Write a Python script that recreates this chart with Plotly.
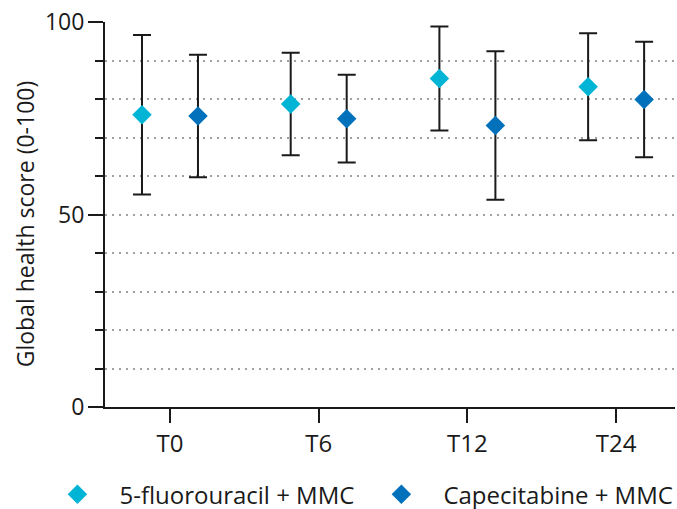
import plotly.graph_objects as go

# Time points and arms
timepoints = ["T0", "T6", "T12", "T24"]

fu_name = "5-fluorouracil + MMC"
fu_mean = [75.9, 78.7, 85.3, 83.2]
fu_sd = [20.7, 13.3, 13.5, 13.9]

cape_name = "Capecitabine + MMC"
cape_mean = [75.6, 74.9, 73.1, 79.9]
cape_sd = [15.9, 11.4, 19.3, 15.0]

y_ticks = [0, 50, 100]
y_title = "Global health score (0-100)"

FONT = "Open Sans"
AXIS_COLOR = "#1a1a1a"
GRID_COLOR = "#a0a0a0"
GRID_DASH = "2px,5px"

fig = go.Figure()

for name, mean, sd, color in [
    (fu_name, fu_mean, fu_sd, "#00B4D6"),
    (cape_name, cape_mean, cape_sd, "#0071BA"),
]:
    fig.add_trace(go.Scatter(
        x=timepoints, y=mean, name=name, mode="markers",
        marker=dict(symbol="diamond", size=15, color=color, line=dict(width=0)),
        error_y=dict(type="data", array=sd, visible=True,
                     color=AXIS_COLOR, thickness=2, width=9),
    ))

# rotated y-axis title, placed as a paper-anchored annotation
fig.add_annotation(
    text=y_title, textangle=-90, showarrow=False,
    xref="paper", yref="paper", x=-0.14, y=0.475,
    xanchor="center", yanchor="middle",
    font=dict(size=23, family=FONT, color="#1a1a1a"),
)

fig.update_layout(
    width=677, height=509,
    margin=dict(l=105, r=2, t=22, b=102, autoexpand=False),
    paper_bgcolor="white", plot_bgcolor="white",
    font=dict(family=FONT, color="#1a1a1a"),
    scattermode="group", scattergap=0.247,
    showlegend=True,
    legend=dict(orientation="h", x=-0.122, xanchor="left", y=-0.169, yanchor="top",
                font=dict(size=24), itemwidth=74,
                bgcolor="rgba(0,0,0,0)"),
    xaxis=dict(
        type="category", categoryorder="array", categoryarray=timepoints,
        range=[-0.437, 3.396],
        showline=True, linecolor=AXIS_COLOR, linewidth=2,
        ticks="outside", ticklen=14, tickwidth=2, tickcolor=AXIS_COLOR,
        tickfont=dict(size=24), showgrid=False, zeroline=False,
    ),
    yaxis=dict(
        range=[0, 100], tickvals=y_ticks,
        showline=True, linecolor=AXIS_COLOR, linewidth=2,
        ticks="outside", ticklen=15, tickwidth=2, tickcolor=AXIS_COLOR,
        tickfont=dict(size=23), ticklabelstandoff=-1,
        showgrid=True, gridcolor=GRID_COLOR, griddash=GRID_DASH, gridwidth=1.5,
        zeroline=False,
        minor=dict(dtick=10, ticks="outside", ticklen=8, tickwidth=2,
                   tickcolor=AXIS_COLOR, showgrid=True, gridcolor=GRID_COLOR,
                   griddash=GRID_DASH, gridwidth=1.5),
    ),
)

fig.write_html("out.html")
